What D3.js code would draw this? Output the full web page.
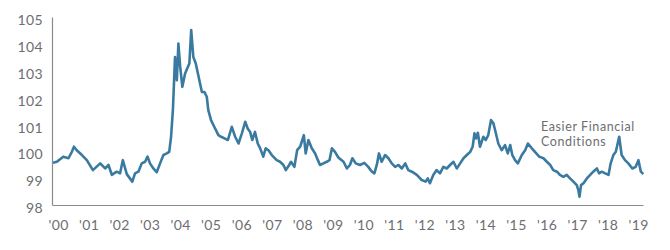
<!DOCTYPE html>
<html>
<head>
<meta charset="utf-8">
<script src="https://cdn.jsdelivr.net/npm/d3@7"></script>
<style>
  body { margin: 0; background: #fff; }
  text { font-family: Lato, "Open Sans", sans-serif; fill: #6d6e71; }
</style>
</head>
<body>
<div id="wrapper"></div>
<script>
// 1. data (decimal year, index level)
const years = [
  1999.83, 1999.96, 2000.17, 2000.34, 2000.45, 2000.52, 2000.61, 2000.78, 2000.94, 2001.14,
  2001.38, 2001.54, 2001.65, 2001.76, 2001.92, 2002.03, 2002.12, 2002.25, 2002.43, 2002.52,
  2002.63, 2002.74, 2002.85, 2002.93, 2003.01, 2003.12, 2003.23, 2003.34, 2003.45, 2003.56,
  2003.64, 2003.70, 2003.76, 2003.80, 2003.83, 2003.89, 2003.94, 2004.00, 2004.07, 2004.16,
  2004.25, 2004.30, 2004.36, 2004.43, 2004.51, 2004.58, 2004.65, 2004.71, 2004.79, 2004.87,
  2004.92, 2005.01, 2005.09, 2005.17, 2005.25, 2005.34, 2005.45, 2005.56, 2005.69, 2005.80,
  2005.91, 2006.02, 2006.13, 2006.21, 2006.29, 2006.36, 2006.45, 2006.54, 2006.62, 2006.72,
  2006.80, 2006.89, 2007.00, 2007.16, 2007.27, 2007.38, 2007.46, 2007.57, 2007.63, 2007.74,
  2007.83, 2007.93, 2008.00, 2008.05, 2008.11, 2008.20, 2008.31, 2008.42, 2008.51, 2008.58,
  2008.69, 2008.80, 2008.89, 2008.97, 2009.07, 2009.18, 2009.35, 2009.46, 2009.56, 2009.64,
  2009.75, 2009.89, 2010.03, 2010.16, 2010.28, 2010.36, 2010.44, 2010.51, 2010.60, 2010.71,
  2010.82, 2010.93, 2011.04, 2011.15, 2011.26, 2011.37, 2011.47, 2011.59, 2011.75, 2011.91,
  2012.04, 2012.11, 2012.18, 2012.29, 2012.40, 2012.51, 2012.62, 2012.73, 2012.84, 2012.95,
  2013.06, 2013.17, 2013.28, 2013.39, 2013.50, 2013.58, 2013.64, 2013.69, 2013.75, 2013.82,
  2013.93, 2014.01, 2014.09, 2014.18, 2014.26, 2014.34, 2014.42, 2014.53, 2014.64, 2014.73,
  2014.81, 2014.88, 2014.97, 2015.06, 2015.19, 2015.30, 2015.39, 2015.52, 2015.62, 2015.76,
  2015.90, 2016.01, 2016.12, 2016.22, 2016.34, 2016.44, 2016.55, 2016.66, 2016.77, 2016.88,
  2016.99, 2017.04, 2017.08, 2017.13, 2017.21, 2017.32, 2017.43, 2017.53, 2017.65, 2017.72,
  2017.81, 2017.92, 2018.03, 2018.10, 2018.19, 2018.27, 2018.33, 2018.38, 2018.46, 2018.57,
  2018.68, 2018.81, 2018.92, 2019.01, 2019.09, 2019.17
]
const values = [
  99.57, 99.61, 99.80, 99.74, 99.98, 100.17, 100.04, 99.86, 99.67, 99.30,
  99.55, 99.36, 99.49, 99.12, 99.24, 99.18, 99.67, 99.15, 98.87, 99.18,
  99.24, 99.55, 99.61, 99.80, 99.55, 99.36, 99.22, 99.55, 99.86, 99.92,
  99.98, 100.54, 101.53, 102.65, 103.51, 102.65, 104.01, 103.14, 102.40, 102.90,
  103.14, 103.27, 104.51, 103.51, 103.27, 102.90, 102.52, 102.21, 102.21, 102.03,
  101.53, 101.16, 100.97, 100.79, 100.60, 100.54, 100.48, 100.42, 100.91, 100.54,
  100.29, 100.67, 101.10, 100.85, 100.72, 100.42, 100.72, 100.29, 100.11, 99.80,
  100.11, 100.04, 99.86, 99.67, 99.61, 99.49, 99.30, 99.49, 99.61, 99.42,
  100.04, 100.17, 100.42, 100.60, 99.92, 100.42, 100.11, 99.92, 99.67, 99.49,
  99.55, 99.61, 99.67, 100.11, 99.98, 99.77, 99.61, 99.36, 99.49, 99.74,
  99.55, 99.49, 99.57, 99.42, 99.24, 99.18, 99.49, 99.92, 99.61, 99.86,
  99.74, 99.55, 99.42, 99.49, 99.36, 99.55, 99.30, 99.24, 99.12, 98.93,
  98.87, 98.99, 98.81, 99.12, 99.30, 99.18, 99.42, 99.36, 99.49, 99.61,
  99.36, 99.55, 99.74, 99.86, 99.98, 100.17, 100.67, 100.48, 100.69, 100.17,
  100.54, 100.42, 100.60, 101.16, 101.04, 100.67, 100.29, 100.04, 100.23, 99.92,
  100.23, 99.86, 99.67, 99.55, 99.86, 100.04, 100.29, 100.11, 99.98, 99.80,
  99.74, 99.61, 99.49, 99.30, 99.24, 99.12, 99.05, 99.12, 98.99, 98.87,
  98.74, 98.56, 98.31, 98.74, 98.81, 98.99, 99.12, 99.24, 99.36, 99.18,
  99.24, 99.18, 99.12, 99.55, 99.86, 99.98, 100.29, 100.54, 99.86, 99.67,
  99.55, 99.36, 99.42, 99.67, 99.24, 99.15
]
const yTicks = [98, 99, 100, 101, 102, 103, 104, 105]
const xTicks = d3.range(2000, 2020)
const annotation = ["Easier Financial", "Conditions"]

const dataset = years.map((y, i) => ({ year: y, value: values[i] }))
const xAccessor = d => d.year
const yAccessor = d => d.value

// 2. dimensions
let dimensions = {
  width: 670,
  height: 250,
  margins: { top: 17, right: 27, bottom: 45, left: 52 },
}
dimensions.boundedWidth = dimensions.width - dimensions.margins.left - dimensions.margins.right
dimensions.boundedHeight = dimensions.height - dimensions.margins.top - dimensions.margins.bottom

// 3. canvas
const wrapper = d3.select("#wrapper")
  .append("svg")
  .attr("width", dimensions.width)
  .attr("height", dimensions.height)

const bounds = wrapper.append("g")
  .attr("transform", `translate(${dimensions.margins.left},${dimensions.margins.top})`)

// scales
const xScale = d3.scaleLinear()
  .domain([1999.80, 2019.16])
  .range([0, dimensions.boundedWidth])

const yScale = d3.scaleLinear()
  .domain([98, 105])
  .range([dimensions.boundedHeight, 0])

// line
const lineGenerator = d3.line()
  .x(d => xScale(xAccessor(d)))
  .y(d => yScale(yAccessor(d)))

bounds.append("path")
  .attr("d", lineGenerator(dataset))
  .attr("fill", "none")
  .attr("stroke", "#3a7aa0")
  .attr("stroke-width", 2.6)
  .attr("stroke-linejoin", "round")

// axes
const yAxis = bounds.append("g")
  .call(d3.axisLeft(yScale).tickValues(yTicks).tickSize(0).tickPadding(9).tickFormat(d3.format("d")))
yAxis.select(".domain").attr("stroke", "#8a8a8a").attr("stroke-width", 1.2)
yAxis.selectAll("text")
  .attr("dy", "0.55em")
  .style("font-size", "14px")
  .style("letter-spacing", "0.4px")
  .style("font-family", "Lato, sans-serif")
  .attr("fill", "#6d6e71")

const xAxis = bounds.append("g")
  .attr("transform", `translate(0,${dimensions.boundedHeight})`)
  .call(d3.axisBottom(xScale).tickValues(xTicks).tickSize(0).tickPadding(15)
    .tickFormat(d => "'" + String(d).slice(2)))
xAxis.select(".domain").attr("stroke", "#8a8a8a").attr("stroke-width", 1.2)
xAxis.selectAll("text")
  .style("font-size", "14px")
  .style("letter-spacing", "0.4px")
  .style("font-family", "Lato, sans-serif")
  .attr("fill", "#6d6e71")

// annotation
bounds.append("text")
  .attr("x", xScale(2015.82))
  .attr("y", yScale(100.76))
  .style("font-size", "12.5px")
  .style("letter-spacing", "0.6px")
  .attr("fill", "#6d6e71")
  .selectAll("tspan")
  .data(annotation)
  .join("tspan")
    .attr("x", xScale(2015.82))
    .attr("dy", (d, i) => i === 0 ? 0 : 15)
    .text(d => d)
</script>
</body>
</html>
